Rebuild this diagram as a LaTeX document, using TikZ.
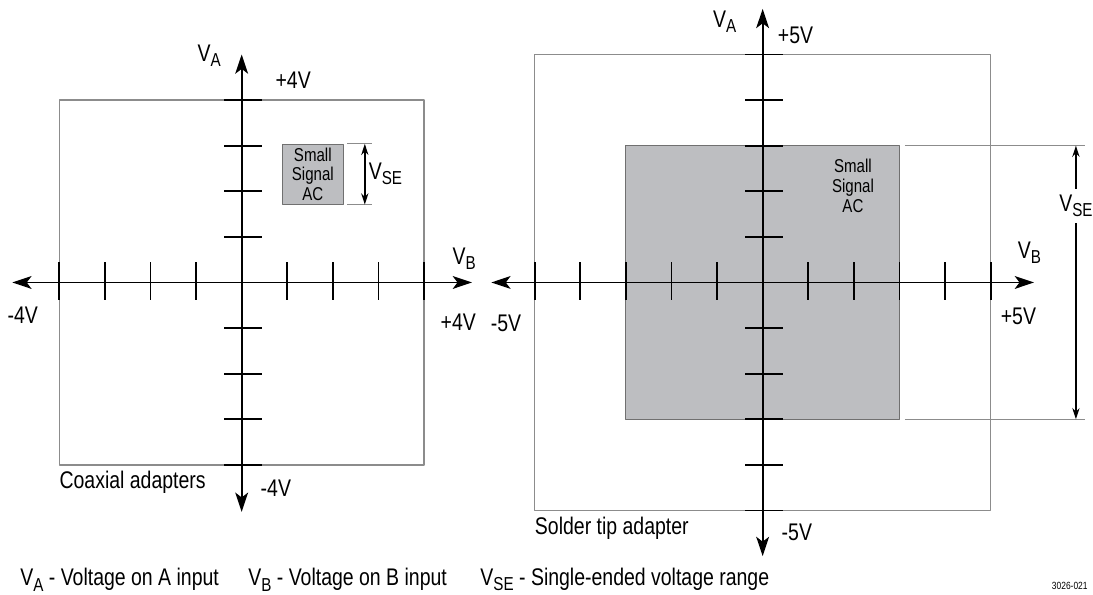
\documentclass[tikz,border=0pt]{standalone}
\usepackage{fontspec}
\setmainfont{Liberation Sans}[FakeStretch=0.81]
\usetikzlibrary{arrows.meta,calc}
\definecolor{sigfill}{RGB}{189,190,193}
\definecolor{boxline}{RGB}{140,140,140}
\newcommand\vsub[1]{V\raisebox{-0.4ex}{\scalebox{0.78}{#1}}}
\begin{document}
\begin{tikzpicture}[line join=round,>={Stealth[length=12pt,width=8pt,inset=3pt]},font=\fontsize{15}{17}\selectfont,
  axis/.style={line width=1.1pt,<->},
  tickmark/.style={line width=1.1pt},
  frame/.style={draw=boxline,line width=.8pt},
  dimline/.style={draw=boxline,line width=.6pt},
  dimarrow/.style={line width=.9pt,{Stealth[length=7pt,width=4.5pt]}-{Stealth[length=7pt,width=4.5pt]}},
  sig/.style={font=\fontsize{11.6}{12.2}\selectfont,align=center,inner sep=0pt},
  lbl/.style={inner sep=0pt},
  legend/.style={inner sep=0pt,anchor=west}]
\def\sx{11.425}
\useasboundingbox (-5.30,-6.853) rectangle (18.67,6.195);
% coaxial adapters, +-4V
\draw[frame] (-4,-4) rectangle (4,4);
\node[sig,draw=boxline!80!black,fill=sigfill,line width=.6pt,minimum width=1.34cm,minimum height=1.31cm] (sigA) at (1.56,2.375) {Small\\Signal\\AC};
\coordinate (vseAt) at ([xshift=.46cm]sigA.north east);
\coordinate (vseAb) at ([xshift=.46cm]sigA.south east);
\draw[dimline] ([xshift=.08cm]sigA.north east) -- ++(.54,0) ([xshift=.08cm]sigA.south east) -- ++(.54,0);
\draw[dimarrow] (vseAt) -- (vseAb);
\node[lbl,anchor=west] (vseA) at ($(vseAt)!.5!(vseAb)+(.08,0)$) {\vsub{SE}};
\draw[axis] (-5.03,0) -- (5.05,0);
\draw[axis] (0,-5.03) -- (0,5.0);
\foreach \i in {-4,-3,-2,-1,1,2,3,4}
  \draw[tickmark] (\i,-.38) -- (\i,.45) (-.38,\i) -- (.45,\i);
\foreach \n/\x/\y/\t in {vaA/-0.71/4.98/\vsub{A},ptA/1.13/4.44/+4V,vbA/4.88/0.53/\vsub{B},
  mlA/-4.80/-0.72/-4V,prA/4.75/-0.87/+4V,mbA/0.75/-4.51/-4V}
  \node[lbl] (\n) at (\x,\y) {\t};
\node[lbl,anchor=west] (coax) at (-4.0,-4.38) {Coaxial adapters};
% solder tip adapter, +-5V
\begin{scope}[xshift=\sx cm]
\fill[sigfill,draw=boxline!80!black,line width=.6pt] (-3,-3) rectangle (3,3);
\draw[frame] (-5,-5) rectangle (5,5);
\node[sig] (sigB) at (1.98,2.12) {Small\\Signal\\AC};
\coordinate (vseBt) at (6.87,3);
\coordinate (vseBb) at (6.87,-3);
\draw[dimline] (3.12,3) -- (7.07,3) (3.12,-3) -- (7.07,-3);
\draw[dimarrow] (vseBt) -- (vseBb);
\node[lbl,fill=white,inner ysep=4pt] (vseB) at (6.87,1.68) {\vsub{SE}};
\draw[axis] (-5.95,0) -- (5.95,0);
\draw[axis] (0,-6) -- (0,6);
\foreach \i in {-5,...,-1,1,2,3,4,5}
  \draw[tickmark] (\i,-.38) -- (\i,.45) (-.38,\i) -- (.45,\i);
\foreach \n/\x/\y/\t in {vaB/-0.83/5.71/\vsub{A},ptB/0.72/5.41/+5V,vbB/5.85/0.65/\vsub{B},
  mlB/-5.63/-0.89/-5V,prB/5.61/-0.75/+5V,mbB/0.75/-5.49/-5V}
  \node[lbl] (\n) at (\x,\y) {\t};
\node[lbl,anchor=west] (solder) at (-5.0,-5.38) {Solder tip adapter};
\end{scope}
% legend
\node[legend] (legA) at (-4.86,-6.52) {\vsub{A} - Voltage on A input};
\node[legend] (legB) at (0.14,-6.52) {\vsub{B} - Voltage on B input};
\node[legend] (legSE) at (5.23,-6.52) {\vsub{SE} - Single-ended voltage range};
\node[lbl,font=\fontsize{6.5}{7}\selectfont] (figno) at (18.16,-6.66) {3026-021};
\end{tikzpicture}
\end{document}
